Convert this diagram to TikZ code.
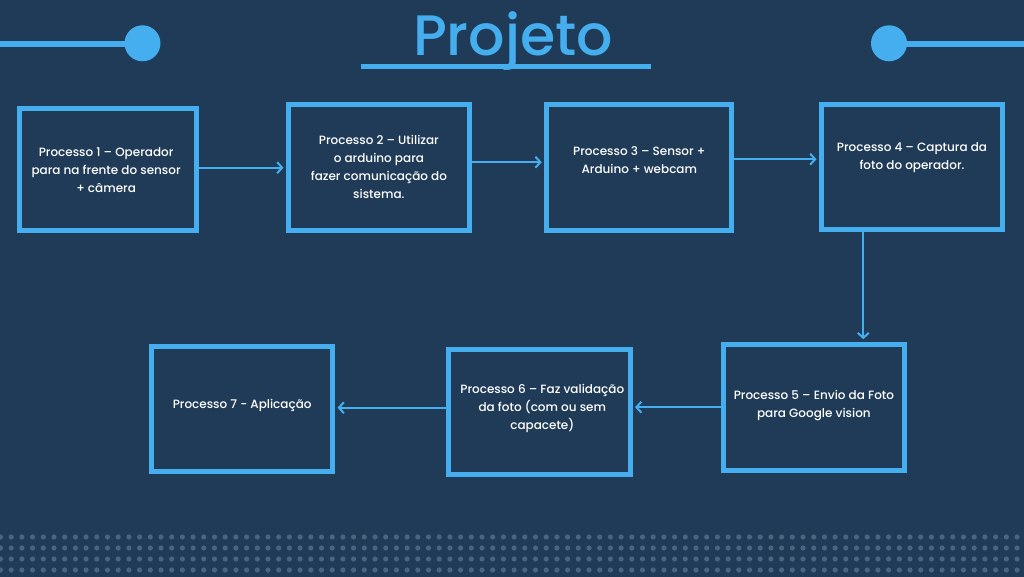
\documentclass[tikz,border=0pt]{standalone}
\usepackage{fontspec}
\setmainfont{Poppins}[UprightFont=* Medium]
\usetikzlibrary{arrows.meta, positioning}
\definecolor{fundo}{RGB}{31,59,87}
\definecolor{azul}{RGB}{69,174,239}
\definecolor{ponto}{RGB}{74,100,126}

\tikzset{
  caixa/.style={draw=azul, line width=5pt, inner sep=0pt},
  texto/.style={text=white, font=\fontsize{12}{18}\selectfont, align=center, inner sep=0pt},
  seta/.style={draw=azul, line width=2pt, shorten >=2.5pt, -{Straight Barb[length=5pt,width=11pt]}},
}

\begin{document}
\begin{tikzpicture}[x=1pt,y=-1pt]
\useasboundingbox (0,0) rectangle (1024,577);
\fill[fundo] (0,0) rectangle (1024,577);

% title
\draw[azul, line width=6.5pt] (0,44) -- (142.5,44);
\fill[azul] (142.5,43.3) circle (18pt);
\draw[azul, line width=6.5pt] (889,44) -- (1024,44);
\fill[azul] (889,43.3) circle (18pt);
\node[anchor=base, text=azul, font=\fontsize{57}{60}\selectfont, inner sep=0pt] (titulo) at (513,55.7) {Projeto};
\draw[azul, line width=5.5pt] (361,66.7) -- (651,66.7);

% boxes
\node[caixa, minimum width=176.8pt, minimum height=122.3pt] (p1) at (108.1,169.7) {};
\node[caixa, minimum width=180.8pt, minimum height=126pt] (p2) at (378.9,167.2) {};
\node[caixa, minimum width=185.1pt, minimum height=125.7pt] (p3) at (639.3,167.2) {};
\node[caixa, minimum width=181pt, minimum height=125.6pt] (p4) at (912,167) {};
\node[caixa, minimum width=180.7pt, minimum height=126pt] (p5) at (813.9,407.2) {};
\node[caixa, minimum width=181.5pt, minimum height=124.4pt] (p6) at (539.3,412) {};
\node[caixa, minimum width=180.7pt, minimum height=125pt] (p7) at (242.2,409) {};

\node[texto] (t1) at ([xshift=-2pt]p1.center) {Processo 1 – Operador\\para na frente do sensor\\+ câmera};
\node[texto] (t2) at (p2.center) {Processo 2 – Utilizar\\o arduino para\\fazer comunicação do\\sistema.};
\node[texto] (t3) at ([yshift=7pt]p3.center) {Processo 3 – Sensor +\\Arduino + webcam};
\node[texto] (t4) at ([yshift=9.5pt]p4.center) {Processo 4 – Captura da\\foto do operador.};
\node[texto] (t5) at ([yshift=2pt]p5.center) {Processo 5 – Envio da Foto\\para Google vision};
\node[texto] (t6) at ([xshift=3pt,yshift=4pt]p6.center) {Processo 6 – Faz validação\\da foto (com ou sem\\capacete)};
\node[texto] (t7) at ([yshift=4pt]p7.center) {Processo 7 - Aplicação};

% connectors
\draw[seta] ([yshift=2pt]p1.east) -- ([yshift=2pt]p1.east -| p2.west);
\draw[seta] ([yshift=5pt]p2.east) -- ([yshift=5pt]p2.east -| p3.west);
\draw[seta] ([yshift=8pt]p3.east) -- ([yshift=8pt]p3.east -| p4.west);
\draw[seta] ([xshift=-48.7pt]p4.south) -- ([xshift=-48.7pt]p4.south |- p5.north);
\draw[seta] (p5.west) -- (p5.west -| p6.east);
\draw[seta] ([yshift=4.3pt]p6.west) -- ([yshift=4.3pt]p6.west -| p7.east);

% dots
\foreach \r in {537,548,559,570}{
    \foreach \c in {0,...,95}{
        \fill[ponto] (\c*10.7+0.5,\r) circle (2.6pt);
        }
    }
\end{tikzpicture}
\end{document}
